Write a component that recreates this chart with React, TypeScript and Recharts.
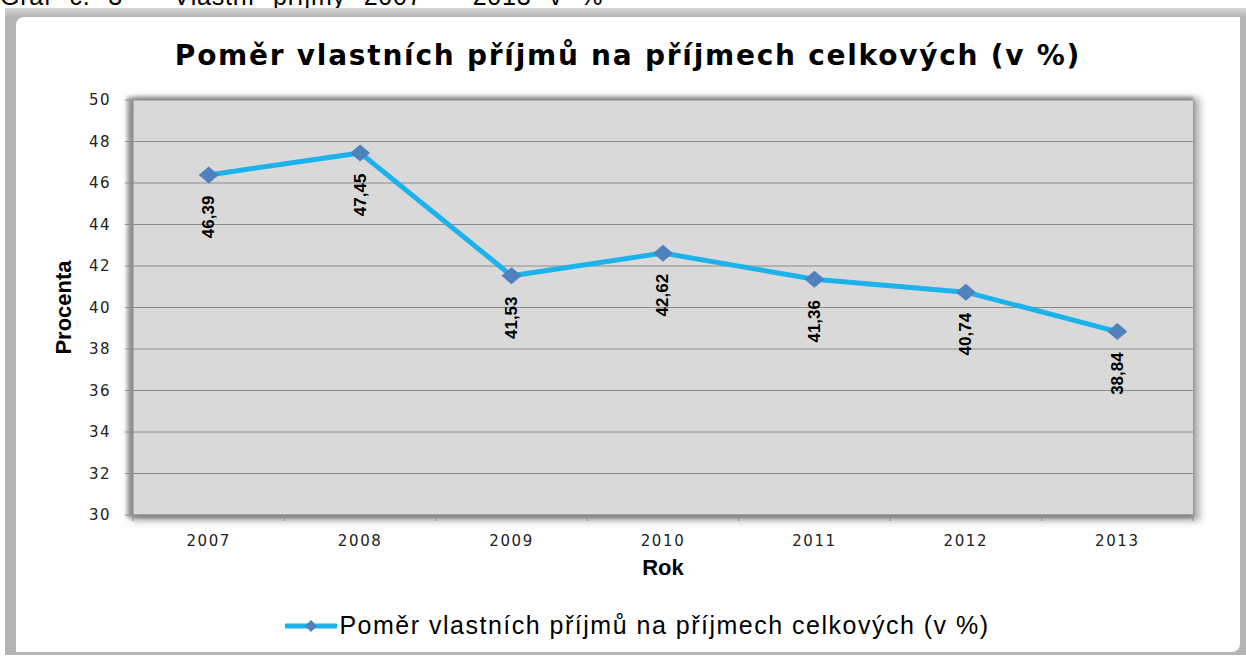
import React from 'react'
import { LineChart, Line, XAxis, YAxis, CartesianGrid, LabelList, Legend } from 'recharts'

const years = ['2007', '2008', '2009', '2010', '2011', '2012', '2013']
const ownIncomeShare = [46.39, 47.45, 41.53, 42.62, 41.36, 40.74, 38.84]
const yTicks = [30, 32, 34, 36, 38, 40, 42, 44, 46, 48, 50]
const seriesName = 'Poměr vlastních příjmů na příjmech celkových (v %)'
const chartTitle = 'Poměr vlastních příjmů na příjmech celkových (v %)'
const caption = 'Graf č. 3 – Vlastní příjmy 2007 – 2013 v %'

const data = years.map((rok, i) => ({ rok, share: ownIncomeShare[i] }))

// layout
const W = 1224
const H = 635
const LEGEND_H = 31
const margin = { top: 83, right: 47, left: 30, bottom: 11 }
const Y_AXIS_W = 87
const X_AXIS_H = 95
const PLOT_W = W - margin.left - Y_AXIS_W - margin.right
const PLOT_H = H - margin.top - margin.bottom - X_AXIS_H - LEGEND_H
const BAND = PLOT_W / years.length

const LINE_COLOR = '#1cb2ec'
const MARKER_COLOR = '#4f81bd'
const GRID_COLOR = '#8c8c8c'
const tickFont = '"DejaVu Sans", Verdana, sans-serif'
const narrowFont = '"Liberation Sans", Arial, sans-serif'

const Diamond = (props: any) => {
  const { cx, cy, index } = props
  if (cx == null || cy == null) return null
  return (
    <path
      key={`d-${index}`}
      d={`M${cx},${cy - 8.5}L${cx + 10},${cy}L${cx},${cy + 8.5}L${cx - 10},${cy}Z`}
      fill={MARKER_COLOR}
    />
  )
}

const ValueLabel = (props: any) => {
  const { x, y, value } = props
  const cy = y + 42
  return (
    <text
      x={x}
      y={cy}
      transform={`rotate(-90 ${x} ${cy})`}
      textAnchor="middle"
      dominantBaseline="central"
      fontFamily={narrowFont}
      fontWeight="bold"
      fontSize={17}
      fill="#000"
    >
      {String(value).replace('.', ',')}
    </text>
  )
}

const XTick = (props: any) => {
  const { x, y, payload, index } = props
  const axisY = y - 6
  const left = x - BAND / 2
  return (
    <g>
      <line x1={left} x2={left} y1={axisY} y2={axisY + 6} stroke={GRID_COLOR} />
      {index === years.length - 1 && (
        <line x1={x + BAND / 2} x2={x + BAND / 2} y1={axisY} y2={axisY + 6} stroke={GRID_COLOR} />
      )}
      <text
        x={x}
        y={axisY + 31}
        textAnchor="middle"
        fontFamily={tickFont}
        fontSize={15}
        letterSpacing={1.6}
        fill="#222"
      >
        {payload.value}
      </text>
    </g>
  )
}

const LegendContent = (props: any) => {
  const item = (props.payload || [])[0]
  if (!item) return null
  return (
    <div style={{ display: 'flex', justifyContent: 'center', alignItems: 'center', height: LEGEND_H, paddingLeft: 36 }}>
      <svg width={52} height={20} style={{ marginRight: 2 }}>
        <line x1={1} x2={51} y1={10} y2={10} stroke={LINE_COLOR} strokeWidth={5} strokeLinecap="round" />
        <path d="M26,4L32,10L26,16L20,10Z" fill={MARKER_COLOR} />
      </svg>
      <span style={{ fontFamily: narrowFont, fontSize: 25, color: '#000', letterSpacing: 1.5 }}>
        {item.value}
      </span>
    </div>
  )
}

export default function App() {
  const plotLeft = margin.left + Y_AXIS_W
  return (
    <div style={{ position: 'absolute', left: 0, top: 0, width: 1246, height: 657, overflow: 'hidden', background: '#fff' }}>
      <div
        style={{
          position: 'absolute',
          left: 0,
          top: -18,
          fontFamily: narrowFont,
          fontSize: 25,
          wordSpacing: 10,
          letterSpacing: 0.8,
          color: '#000',
          whiteSpace: 'nowrap',
        }}
      >
        {caption}
      </div>
      {/* window frame */}
      <div
        style={{
          position: 'absolute',
          left: 5,
          top: 8,
          width: 1241,
          height: 647,
          background: 'linear-gradient(#d6d6d6, #b4b4b4 9px, #b4b4b4)',
        }}
      />
      <div
        style={{
          position: 'absolute',
          left: 16,
          top: 17,
          width: W,
          height: H,
          background: '#fff',
          borderTopLeftRadius: 8,
          borderBottomRightRadius: 8,
        }}
      >
        <div
          style={{
            position: 'absolute',
            left: 0,
            top: 22,
            width: W,
            textAlign: 'center',
            fontFamily: tickFont,
            fontWeight: 'bold',
            fontSize: 28,
            letterSpacing: 1.75,
            color: '#000',
          }}
        >
          {chartTitle}
        </div>
        {/* plot area background with shadow */}
        <div
          style={{
            position: 'absolute',
            left: plotLeft,
            top: margin.top,
            width: PLOT_W,
            height: PLOT_H,
            background: '#d9d9d9',
            boxShadow: '-3px 0 4px 3px rgba(0,0,0,0.35), 3px 2px 7px 4px rgba(0,0,0,0.3)',
          }}
        />
        <div style={{ position: 'absolute', left: 0, top: 0 }}>
          <LineChart width={W} height={H} data={data} margin={margin}>
            <CartesianGrid vertical={false} stroke={GRID_COLOR} />
            <XAxis
              dataKey="rok"
              height={X_AXIS_H}
              padding={{ left: BAND / 2, right: BAND / 2 }}
              tickLine={false}
              tickSize={6}
              tickMargin={0}
              interval={0}
              axisLine={{ stroke: GRID_COLOR }}
              tick={<XTick />}
              label={{
                value: 'Rok',
                position: 'insideBottom',
                offset: 35,
                style: { fontFamily: narrowFont, fontWeight: 'bold', fontSize: 22, fill: '#000' },
              }}
            />
            <YAxis
              domain={[30, 50]}
              ticks={yTicks}
              interval={0}
              width={Y_AXIS_W}
              tickSize={8}
              tickMargin={14}
              tickLine={{ stroke: GRID_COLOR }}
              axisLine={{ stroke: GRID_COLOR }}
              tick={{ fontFamily: tickFont, fontSize: 15, fill: '#222', letterSpacing: 1.5 }}
              label={{
                value: 'Procenta',
                angle: -90,
                position: 'insideLeft',
                offset: 17,
                style: { textAnchor: 'middle', fontFamily: narrowFont, fontWeight: 'bold', fontSize: 22, fill: '#000' },
              }}
            />
            <Legend verticalAlign="bottom" height={LEGEND_H} content={<LegendContent />} />
            <Line
              type="linear"
              dataKey="share"
              name={seriesName}
              stroke={LINE_COLOR}
              strokeWidth={5}
              dot={<Diamond />}
              activeDot={false}
              isAnimationActive={false}
            >
              <LabelList dataKey="share" content={<ValueLabel />} />
            </Line>
          </LineChart>
        </div>
      </div>
    </div>
  )
}
